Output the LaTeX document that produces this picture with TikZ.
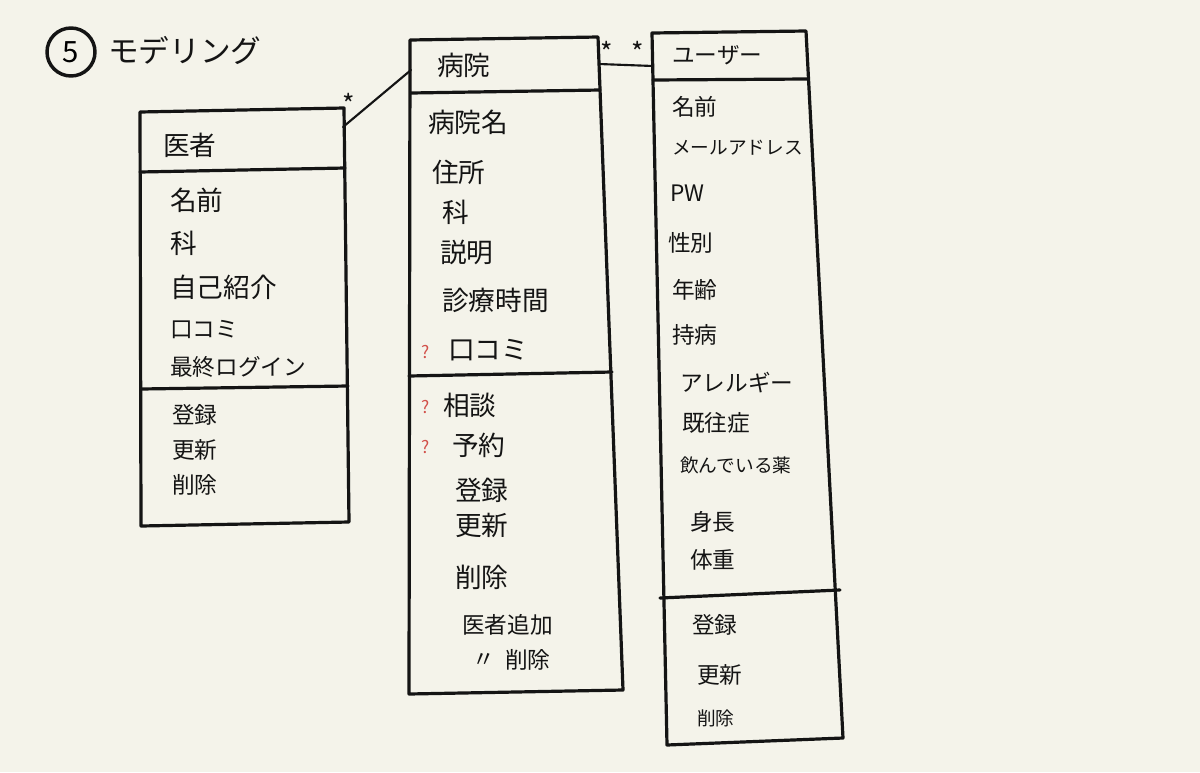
\documentclass[tikz,border=0pt]{standalone}
\usepackage{fontspec}
\setmainfont{Noto Sans CJK JP}
\definecolor{paper}{HTML}{F4F3EA}
\definecolor{ink}{HTML}{141414}
\definecolor{qred}{HTML}{D2504A}
\begin{document}
\begin{tikzpicture}[x=0.75pt,y=-0.75pt,
  box/.style={draw=ink,line width=2.4pt,line join=round},
  sep/.style={draw=ink,line width=2.4pt,line cap=round},
  link/.style={draw=ink,line width=1.6pt,line cap=round},
  big/.style={anchor=west,inner sep=0pt,text=ink,font=\fontsize{20}{22}\selectfont},
  mid/.style={anchor=west,inner sep=0pt,text=ink,font=\fontsize{17}{19}\selectfont},
  sml/.style={anchor=west,inner sep=0pt,text=ink,font=\fontsize{14}{16}\selectfont},
  mult/.style={inner sep=0pt,text=ink,font=\fontsize{20}{22}\selectfont},
  qm/.style={anchor=west,inner sep=0pt,text=qred,font=\fontsize{13}{15}\selectfont}]
\fill[paper] (0,0) rectangle (1200,772);
\useasboundingbox (0,0) rectangle (1200,772);

% title
\node[draw=ink,line width=2.6pt,circle,minimum size=36pt,inner sep=0pt,font=\fontsize{22}{24}\selectfont] (num) at (71,52) {5};
\node[big,font=\fontsize{23}{25}\selectfont] (title) at (108,50) {モデリング};

% ===== 医者 =====
\coordinate (dTL) at (140,112);
\coordinate (dTR) at (344,108);
\coordinate (dBR) at (349,522);
\coordinate (dBL) at (141,526);
\path[box] (dTL) -- (dTR) -- (dBR) -- (dBL) -- cycle;
\path[sep] (140,172) -- (345,168);
\path[sep] (141,389) -- (348,386);
\node[big] (d0) at (163,145) {医者};
\node[big] (d1) at (170,200) {名前};
\node[big] (d2) at (170,243) {科};
\node[big] (d3) at (170,287) {自己紹介};
\node[mid] (d4) at (170,330) {口コミ};
\node[mid] (d5) at (170,367) {最終ログイン};
\node[mid] (d6) at (172,415) {登録};
\node[mid] (d7) at (172,450) {更新};
\node[mid] (d8) at (172,485) {削除};

% ===== 病院 =====
\coordinate (hTL) at (410,40);
\coordinate (hTR) at (598,37);
\coordinate (hBR) at (623,690);
\coordinate (hBL) at (409,694);
\path[box] (hTL) -- (hTR) -- (hBR) -- (hBL) -- cycle;
\path[sep] (411,93) -- (600,90);
\path[sep] (409,376) -- (612,372);
\node[big] (h0) at (437,65) {病院};
\node[big] (h1) at (428,122) {病院名};
\node[big] (h2) at (432,172) {住所};
\node[big] (h3) at (442,212) {科};
\node[big] (h4) at (440,252) {説明};
\node[big] (h5) at (442,300) {診療時間};
\node[qm] (q1) at (421,352) {?};
\node[big] (h6) at (448,350) {口コミ};
\node[qm] (q2) at (421,407) {?};
\node[big] (h7) at (443,405) {相談};
\node[qm] (q3) at (421,447) {?};
\node[big] (h8) at (452,445) {予約};
\node[big] (h9) at (455,490) {登録};
\node[big] (h10) at (455,525) {更新};
\node[big] (h11) at (455,577) {削除};
\node[mid] (h12) at (462,625) {医者追加};
\node[mid] (h13) at (472,660) {〃};
\node[mid] (h14) at (505,660) {削除};

% ===== ユーザー =====
\coordinate (uTL) at (652,33);
\coordinate (uTR) at (806,31);
\coordinate (uBR) at (843,738);
\coordinate (uBL) at (667,745);
\path[box] (uTL) -- (uTR) -- (uBR) -- (uBL) -- cycle;
\path[sep] (653,80) -- (807,79);
\path[sep] (660,598) -- (840,590);
\node[mid] (u0) at (672,55) {ユーザー};
\node[mid] (u1) at (672,107) {名前};
\node[sml] (u2) at (672,148) {メールアドレス};
\node[mid] (u3) at (670,193) {PW};
\node[mid] (u4) at (668,243) {性別};
\node[mid] (u5) at (672,290) {年齢};
\node[mid] (u6) at (672,335) {持病};
\node[mid] (u7) at (680,383) {アレルギー};
\node[mid] (u8) at (682,423) {既往症};
\node[sml] (u9) at (680,465) {飲んでいる薬};
\node[mid] (u10) at (690,522) {身長};
\node[mid] (u11) at (690,560) {体重};
\node[mid] (u12) at (692,625) {登録};
\node[mid] (u13) at (697,675) {更新};
\node[sml] (u14) at (697,718) {削除};

% ===== links =====
\coordinate (dl) at (343,127);
\coordinate (hl) at (411,70);
\path[link] (dl) -- (hl);
\node[mult] (m1) at (349,104) {*};
\coordinate (hr) at (599,64);
\coordinate (ul) at (653,66);
\path[link] (hr) -- (ul);
\node[mult] (m2) at (607,52) {*};
\node[mult] (m3) at (638,52) {*};
\end{tikzpicture}
\end{document}
